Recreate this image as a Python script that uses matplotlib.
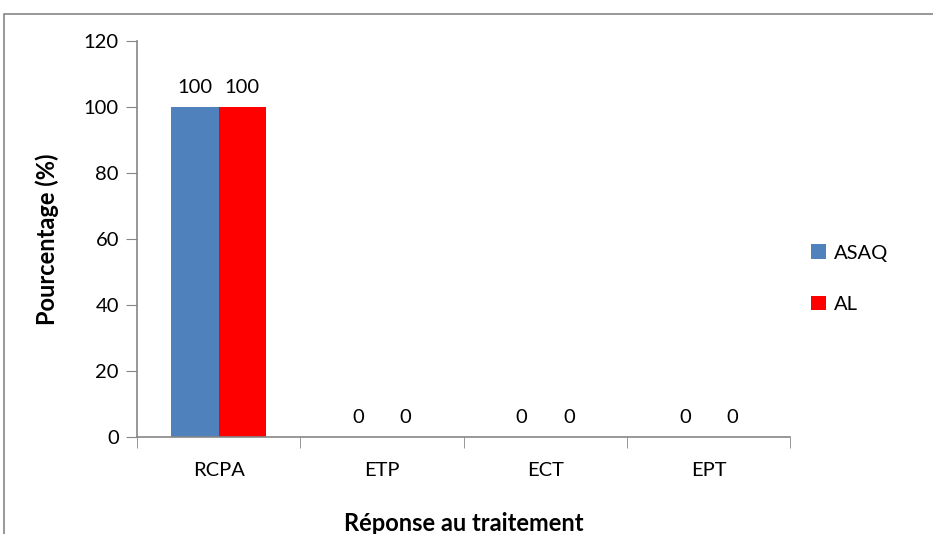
import numpy as np
import matplotlib.pyplot as plt
from matplotlib.patches import Rectangle

categories = ["RCPA", "ETP", "ECT", "EPT"]
asaq = [100, 0, 0, 0]
al = [100, 0, 0, 0]
series_names = ["ASAQ", "AL"]

plt.rcParams['font.family'] = ['Lato', 'DejaVu Sans']

fig = plt.figure(figsize=(9.33, 5.34), dpi=100)
ax = fig.add_axes([0.1468, 0.1816, 0.7, 0.7416])

x = np.arange(len(categories))
w = 0.29
b1 = ax.bar(x - w / 2, asaq, w, color="#4f81bd", label=series_names[0])
b2 = ax.bar(x + w / 2, al, w, color="#ff0000", label=series_names[1])

for bars in (b1, b2):
    for rect in bars:
        h = rect.get_height()
        ax.annotate(f"{h:g}", (rect.get_x() + rect.get_width() / 2, h),
                    xytext=(0, 8), textcoords="offset points",
                    ha="center", va="bottom", fontsize=14.5)

ax.set_xlim(-0.5, len(categories) - 0.5)
ax.set_ylim(0, 120)
ax.set_yticks(range(0, 121, 20))
ax.set_xticks(x)
ax.set_xticklabels(categories)
ax.set_xticks(np.arange(-0.5, len(categories)), minor=True)
ax.tick_params(axis="x", which="major", length=0, pad=18, labelsize=14.5)
ax.tick_params(axis="x", which="minor", length=8, color="#868686", direction="out")
ax.tick_params(axis="y", length=8, color="#868686", direction="out", pad=5, labelsize=14.5)

for s in ("top", "right"):
    ax.spines[s].set_visible(False)
for s in ("left", "bottom"):
    ax.spines[s].set_color("#868686")
    ax.spines[s].set_linewidth(1.2)

ax.set_ylabel("Pourcentage (%)", fontsize=17, fontweight="bold", labelpad=18)
ax.set_xlabel("Réponse au traitement", fontsize=17, fontweight="bold", labelpad=24)

ax.legend(loc="center left", bbox_to_anchor=(1.005, 0.40), frameon=False,
          fontsize=14.5, handlelength=0.7, handleheight=0.7,
          labelspacing=1.7, handletextpad=0.4)

# chart area border (left and top edges visible)
fig.add_artist(Rectangle((0.0045, -0.05), 1.2, 1.0233, transform=fig.transFigure,
                         fill=False, edgecolor="#868686", linewidth=1.2))

fig.savefig("out.png", dpi=100)
